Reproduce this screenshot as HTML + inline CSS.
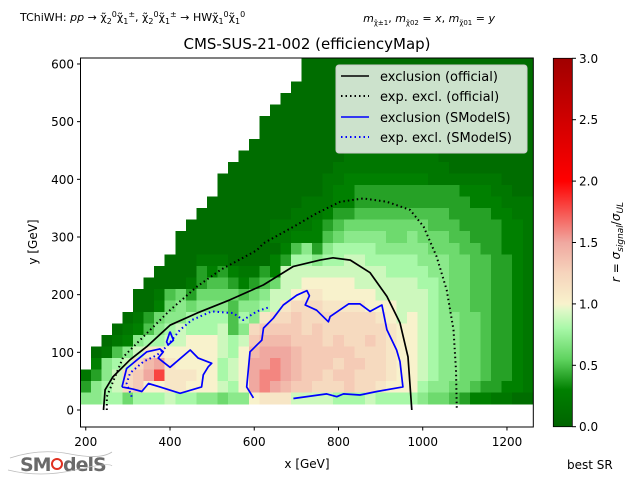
<!DOCTYPE html>
<html><head><meta charset="utf-8"><style>
body{margin:0;background:#fff;}
svg text{font-family:"DejaVu Sans","Liberation Sans",sans-serif;fill:#000;}
</style></head><body>
<svg id="chart" width="640" height="480" viewBox="0 0 640 480" xmlns="http://www.w3.org/2000/svg">
<defs>
<linearGradient id="cbgrad" x1="0" y1="1" x2="0" y2="0">
<stop offset="0" stop-color="#006400"/><stop offset="0.1" stop-color="#008000"/>
<stop offset="0.183" stop-color="#5fd35f"/><stop offset="0.267" stop-color="#a8f8a8"/>
<stop offset="0.317" stop-color="#e0f8c8"/><stop offset="0.333" stop-color="#f8f2cc"/>
<stop offset="0.417" stop-color="#f6d4bc"/><stop offset="0.5" stop-color="#f0a8a0"/>
<stop offset="0.667" stop-color="#ff0000"/><stop offset="1" stop-color="#a00000"/>
</linearGradient>
<clipPath id="plotclip"><rect x="80.5" y="58" width="452.8" height="369"/></clipPath>
</defs>
<text x="20" y="21" font-size="11">TChiWH: <tspan font-style="italic">pp</tspan> → χ̃<tspan font-size="8" dy="3">2</tspan><tspan font-size="8" dy="-7">0</tspan><tspan dy="4">χ̃</tspan><tspan font-size="8" dy="3">1</tspan><tspan font-size="8" dy="-7">±</tspan><tspan dy="4">, χ̃</tspan><tspan font-size="8" dy="3">2</tspan><tspan font-size="8" dy="-7">0</tspan><tspan dy="4">χ̃</tspan><tspan font-size="8" dy="3">1</tspan><tspan font-size="8" dy="-7">±</tspan><tspan dy="4"> → HWχ̃</tspan><tspan font-size="8" dy="3">1</tspan><tspan font-size="8" dy="-7">0</tspan><tspan dy="4">χ̃</tspan><tspan font-size="8" dy="3">1</tspan><tspan font-size="8" dy="-7">0</tspan></text>
<text x="495" y="22" font-size="11" text-anchor="end"><tspan font-style="italic">m</tspan><tspan font-size="7" dy="3">χ̃±1</tspan><tspan dy="-3">, </tspan><tspan font-style="italic">m</tspan><tspan font-size="7" dy="3">χ̃02</tspan><tspan dy="-3"> = </tspan><tspan font-style="italic">x</tspan>, <tspan font-style="italic">m</tspan><tspan font-size="7" dy="3">χ̃01</tspan><tspan dy="-3"> = </tspan><tspan font-style="italic">y</tspan></text>
<text x="307" y="49" font-size="15" text-anchor="middle">CMS-SUS-21-002 (efficiencyMap)</text>
<g id="cells" clip-path="url(#plotclip)" shape-rendering="crispEdges"></g>
<g id="contours" clip-path="url(#plotclip)"></g>
<rect x="80.5" y="58" width="452.8" height="369" fill="none" stroke="#000" stroke-width="1"/>
<g id="xticks"></g>
<g id="yticks"></g>
<text x="307" y="468" font-size="12" text-anchor="middle">x [GeV]</text>
<text transform="translate(37,242) rotate(-90)" font-size="12" text-anchor="middle">y [GeV]</text>
<g>
<rect x="336" y="65" width="191" height="88" rx="3" fill="#fff" fill-opacity="0.8" stroke="#ccc"/>
<line x1="341" y1="76" x2="369" y2="76" stroke="#000" stroke-width="1.6"/>
<text x="380" y="81" font-size="13">exclusion (official)</text>
<line x1="341" y1="96" x2="369" y2="96" stroke="#000" stroke-width="2" stroke-dasharray="1.5,3"/>
<text x="380" y="101" font-size="13">exp. excl. (official)</text>
<line x1="341" y1="117" x2="369" y2="117" stroke="#0000ff" stroke-width="1.6"/>
<text x="380" y="122" font-size="13">exclusion (SModelS)</text>
<line x1="341" y1="137" x2="369" y2="137" stroke="#0000ff" stroke-width="2" stroke-dasharray="1.5,3"/>
<text x="380" y="142" font-size="13">exp. excl. (SModelS)</text>
</g>
<rect x="553.3" y="58.3" width="19" height="368.4" fill="url(#cbgrad)" stroke="#000" stroke-width="0.8"/>
<g id="cbticks"></g>
<text transform="translate(620,242) rotate(-90)" font-size="12" text-anchor="middle"><tspan font-style="italic">r</tspan> = <tspan font-style="italic">σ</tspan><tspan font-size="9" dy="3" font-style="italic">signal</tspan><tspan dy="-3">/</tspan><tspan font-style="italic">σ</tspan><tspan font-size="9" dy="3" font-style="italic">UL</tspan></text>
<text x="567" y="469" font-size="12">best SR</text>
<g>
<text x="20" y="471" font-size="19" style="fill:#6a6a6a" font-weight="bold" letter-spacing="-1">SM</text>
<circle cx="57" cy="464" r="5" fill="none" stroke="#e03020" stroke-width="2"/>
<text x="63" y="471" font-size="19" style="fill:#6a6a6a" font-weight="bold" letter-spacing="-1">delS</text>
<path d="M10 458 Q40 448 70 454 T112 452" stroke="#bbb" stroke-width="0.8" fill="none"/>
<path d="M8 470 Q40 478 75 470 T112 466" stroke="#bbb" stroke-width="0.8" fill="none"/>
</g>
</svg>
<script>
const rowYs=[600,580,560,540,520,500,480,460,440,420,400,380,360,340,320,300,280,260,240,220,200,180,160,140,120,100,80,60,40,20];
const colXs=[200,225,250,275,300,325,350,375,400,425,450,475,500,525,550,575,600,625,650,675,700,725,750,775,800,825,850,875,900,925,950,975,1000,1025,1050,1075,1100,1125,1150,1175,1200,1225,1250];
const rValues=[
".....................1111111111111111111111",
".....................1111111111111111111111",
"....................11111111111111111111111",
"...................111111111111111111111111",
"..................1111111111111111111111111",
".................11111111111111111111111111",
".................11111111111111111111111111",
"................111111111111111111111111111",
"...............1111111111222222222111111111",
"..............11111111112222222222211111111",
".............111111111122333333332222222111",
".............111111111123344444444443332211",
"............1111111112223344444444444333222",
"...........11111111122234455555555544443322",
"..........111111112222345666666665554444332",
".........1111111112233356777766766655444332",
".........1111111111357478888777776665544332",
"........11122211113488788998888877766554432",
".......111143432243999999999988887766554432",
"......111124554345699AAAAA99999988766554432",
".....112564666656799ABBAAAAA999998766554432",
".....11367677757789BCCCBBBBAAA9998766554432",
"....1246778888587BCCDCCCCCCCBA9A98776654432",
"...1235789888957CDDDDCDCCCCCCBAA98776654432",
"..12378899AAA989DEEEDDDCDCCDCBAA98776654432",
".12579BBAAAAA98AEFFFEDDDDDCCCBAA98776654432",
".3789CEFBAAAA89AFFGFEDDDCDDCCBAA98776654432",
"2479CDFIBBBAA89AFGGFEDDCDDCCCBAA98776654432",
"4789CDAABBAAA98AFGFEDDCCCDCCBAAA87766544332",
"7788688898877677ABBB99998889888876654332211"
];
const xTicks=[200,400,600,800,1000,1200];
const yTicks=[0,100,200,300,400,500,600];
const cbTicks=[0.0,0.5,1.0,1.5,2.0,2.5,3.0];
const obsOfficialX=[242,246,265,305,345,400,464,542,622,693,756,787,828,875,915,946,965,974];
const obsOfficialY=[0,35,58,87,110,147,168,191,217,249,260,264,260,238,197,151,92,0];
const expOfficialX=[250,250,289,345,400,464,520,606,622,701,748,804,859,915,970,1002,1033,1057,1073,1079,1081];
const expOfficialY=[0,23,92,133,173,214,243,277,289,321,341,361,367,361,347,318,266,208,139,69,0];
const obsSmodelsAX=[286,297,345,376,384,372,400,448,467,499,491,479,475,424,376,349,333,313,286];
const obsSmodelsAY=[40,72,101,106,101,90,74,104,90,81,75,61,40,29,40,46,32,36,40];
const obsSmodelsBX=[400,408,396,392,400];
const obsSmodelsBY=[136,121,113,118,136];
const obsSmodelsCX=[598,582,590,618,622,645,669,701,725,731,721,748,776,780,824,851,875,903,915,938,946,953,891,851,812,796,772,693];
const obsSmodelsCY=[21,40,101,121,142,159,182,199,207,198,182,173,153,162,184,184,171,182,139,104,84,40,32,26,28,23,28,20];
const expSmodelsX=[309,297,305,337,369,392,424,452,499,550,574,606,638];
const expSmodelsY=[23,46,64,84,95,110,139,156,171,168,156,171,179];

const NS='http://www.w3.org/2000/svg';
const X0=80.5, XS=0.4212, XD=187.5, Y0=410, YS=0.5767;
function X(x){return X0+(x-XD)*XS;}
function Y(y){return Y0-y*YS;}
const stops=[[0,[0,100,0]],[0.3,[0,128,0]],[0.55,[95,211,95]],[0.8,[168,248,168]],[0.95,[224,248,200]],[1.0,[248,242,204]],[1.25,[246,212,188]],[1.5,[240,168,160]],[2.0,[255,0,0]],[3.0,[160,0,0]]];
function cmap(v){
  v=Math.max(0,Math.min(3,v));
  for(let i=1;i<stops.length;i++){
    if(v<=stops[i][0]){const a=stops[i-1],b=stops[i];const t=(v-a[0])/(b[0]-a[0]);
      const c=a[1].map((k,j)=>Math.round(k+(b[1][j]-k)*t));return 'rgb('+c.join(',')+')';}
  }
  return 'rgb(160,0,0)';
}
const codes="0123456789ABCDEFGHIJKLMNOPQRSTUVWXYZ";
const cells=document.getElementById('cells');
rowYs.forEach((y,ri)=>{
  const row=rValues[ri];
  colXs.forEach((x,ci)=>{
    const ch=row[ci];
    if(!ch||ch==='.')return;
    const v=codes.indexOf(ch)/10;
    const r=document.createElementNS(NS,'rect');
    
    
    r.setAttribute('x',X(x-12.5).toFixed(2));
    r.setAttribute('y',Y(y+10).toFixed(2));
    r.setAttribute('width',(25*XS+0.4).toFixed(2));
    r.setAttribute('height',(20*YS+0.4).toFixed(2));
    r.setAttribute('fill',cmap(v));
    cells.appendChild(r);
  });
});
const cg=document.getElementById('contours');
function line(xs,ys,color,dash,name){
  const p=document.createElementNS(NS,'path');
  
  
  p.setAttribute('d',xs.map((x,i)=>(i?'L':'M')+X(x).toFixed(1)+' '+Y(ys[i]).toFixed(1)).join(' '));
  p.setAttribute('fill','none');p.setAttribute('stroke',color);
  p.setAttribute('stroke-width',dash?2:1.7);p.setAttribute('stroke-linejoin','round');
  if(dash)p.setAttribute('stroke-dasharray','1.5,3');
  cg.appendChild(p);
}
line(obsOfficialX,obsOfficialY,'#000',false,'exclusion-official-line');
line(expOfficialX,expOfficialY,'#000',true,'exp-excl-official-line');
line(obsSmodelsAX,obsSmodelsAY,'#0000ff',false,'exclusion-smodels-line-left');
line(obsSmodelsBX,obsSmodelsBY,'#0000ff',false,'exclusion-smodels-line-loop');
line(obsSmodelsCX,obsSmodelsCY,'#0000ff',false,'exclusion-smodels-line-right');
line(expSmodelsX,expSmodelsY,'#0000ff',true,'exp-excl-smodels-line');
const xt=document.getElementById('xticks');
xTicks.forEach(v=>{
  const l=document.createElementNS(NS,'line');
  
  
  l.setAttribute('x1',X(v));l.setAttribute('x2',X(v));l.setAttribute('y1',427);l.setAttribute('y2',430.5);l.setAttribute('stroke','#000');
  xt.appendChild(l);
  const t=document.createElementNS(NS,'text');
  
  
  t.setAttribute('x',X(v));t.setAttribute('y',446);t.setAttribute('font-size','12');t.setAttribute('text-anchor','middle');
  t.textContent=v;xt.appendChild(t);
});
const yt=document.getElementById('yticks');
yTicks.forEach(v=>{
  const l=document.createElementNS(NS,'line');
  
  
  l.setAttribute('x1',77);l.setAttribute('x2',80.5);l.setAttribute('y1',Y(v));l.setAttribute('y2',Y(v));l.setAttribute('stroke','#000');
  yt.appendChild(l);
  const t=document.createElementNS(NS,'text');
  
  
  t.setAttribute('x',74);t.setAttribute('y',Y(v)+4.5);t.setAttribute('font-size','12');t.setAttribute('text-anchor','end');
  t.textContent=v;yt.appendChild(t);
});
const cbt=document.getElementById('cbticks');
cbTicks.forEach(v=>{
  const yy=426.7-v/3*368.4;
  const l=document.createElementNS(NS,'line');
  
  
  l.setAttribute('x1',572.3);l.setAttribute('x2',576);l.setAttribute('y1',yy);l.setAttribute('y2',yy);l.setAttribute('stroke','#000');
  cbt.appendChild(l);
  const t=document.createElementNS(NS,'text');
  
  
  t.setAttribute('x',579);t.setAttribute('y',yy+4.5);t.setAttribute('font-size','12');
  t.textContent=v.toFixed(1);cbt.appendChild(t);
});
</script>
</body></html>
